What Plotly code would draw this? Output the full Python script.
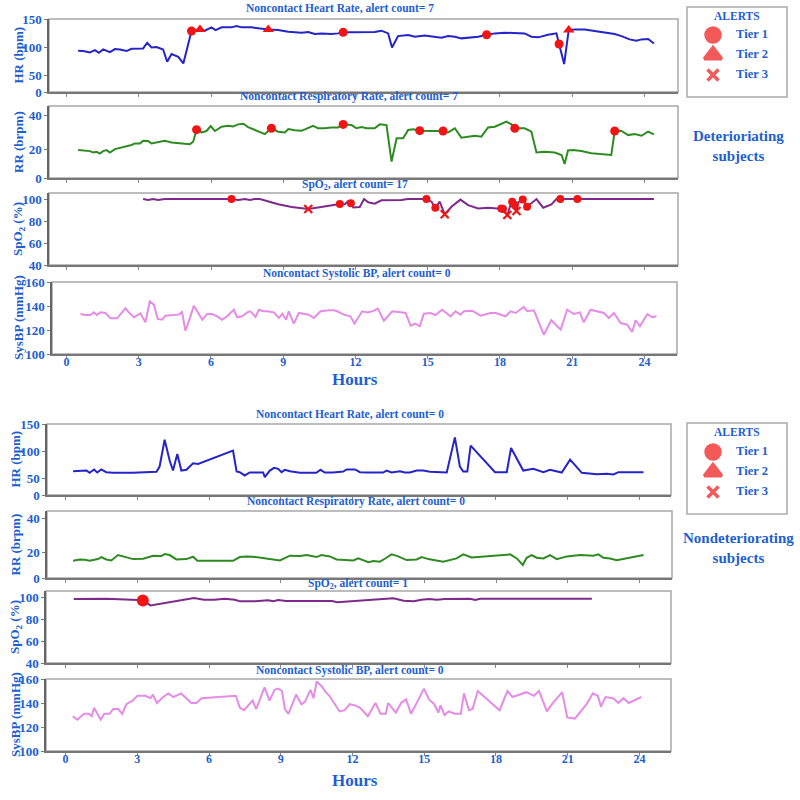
import plotly.graph_objects as go

# ---------------- DATA (hours, values) ----------------
HOUR_TICKS = [0, 3, 6, 9, 12, 15, 18, 21, 24]
TIERS = ["Tier 1", "Tier 2", "Tier 3"]

# Deteriorating subject
det_hr_t = [0.48,0.69,0.97,1.18,1.34,1.52,1.80,2.01,2.22,2.49,2.70,2.98,3.18,3.35,3.53,3.74,4.01,4.18,4.36,4.64,
            4.85,5.19,5.54,5.74,6.02,6.19,6.44,6.85,7.06,7.27,7.68,8.38,8.79,9.21,9.48,9.76,10.04,10.31,10.59,11.0,
            11.28,11.49,11.84,12.25,12.53,12.80,13.08,13.36,13.52,13.77,14.19,14.47,14.88,15.30,15.57,15.85,16.13,16.40,16.68,17.10,
            17.45,17.79,18.20,18.62,19.03,19.31,19.59,20.00,20.35,20.46,20.67,20.86,21.11,21.52,21.94,22.35,22.77,23.05,23.39,23.67,
            23.88,24.16,24.40]
det_hr_v = [93.5,92.9,90.5,94.6,89.9,95.8,91.1,96.4,95.8,92.9,97,97,97.6,107.7,99.4,100,95.8,73.8,87.5,82.7,
            70.8,128.6,131.5,129.2,135.1,130.3,135.1,135.1,137.5,135.1,135.1,131.5,130.3,127.4,126.2,125.6,126.8,123.2,124.4,123.2,
            124.4,126.2,126.2,126.8,126.2,126.8,129.2,124.4,99.4,119.6,121.4,118.4,120.8,118.4,116.7,119.6,118.4,115.5,116.7,118.4,
            122,124.4,125.6,125,124.4,118.4,117.3,122,124.4,105.4,69.7,130.3,131.5,131.5,128.6,125.6,123.2,119.6,113.7,111.3,
            113.7,114.3,106.5]
det_hr_tier1_t = [5.19, 11.49, 17.45, 20.46]
det_hr_tier1_v = [128.6, 126.2, 122, 105.4]
det_hr_tier2_t = [5.54, 8.38, 20.86]
det_hr_tier2_v = [131.5, 131.5, 130.3]

det_rr_t = [0.48,0.76,0.97,1.11,1.25,1.38,1.52,1.66,1.80,2.01,2.28,2.49,2.70,2.84,3.05,3.18,3.39,3.53,3.80,4.08,
            4.36,4.64,4.91,5.12,5.26,5.40,5.61,5.81,5.99,6.16,6.44,6.71,6.92,7.13,7.34,7.54,7.82,8.10,8.24,8.51,
            8.79,9.07,9.21,9.48,9.76,9.90,10.24,10.45,10.73,11.0,11.28,11.49,11.84,12.04,12.25,12.46,12.80,13.01,13.29,13.50,
            13.71,13.98,14.19,14.40,14.67,15.16,15.64,15.85,16.13,16.40,16.68,16.96,17.23,17.51,17.79,18.06,18.27,18.48,18.62,19.03,
            19.31,19.52,19.86,20.28,20.56,20.69,20.83,21.04,21.39,21.80,22.22,22.63,22.77,23.05,23.33,23.60,23.88,24.16,24.40]
det_rr_v = [19.4,19.2,18.8,18.0,18.4,17.3,18.8,19.4,18.0,20.0,20.8,21.8,22.4,23.3,23.3,24.9,24.7,23.3,24.3,24.9,
            23.9,23.3,23.1,22.9,24.3,31.4,29.8,30.6,33.5,30.6,33.1,33.7,33.3,34.5,34.9,32.9,31.4,29.8,28.8,32.2,
            30.2,29.8,31.8,31.0,30.8,31.6,33.7,32.2,32.2,32.7,32.7,34.5,34.1,32.2,32.9,32.2,32.2,34.5,34.1,12.6,
            26.3,26.3,31.2,31.6,30.8,30.6,30.6,29.8,32.2,26.7,27.3,27.8,27.3,32.7,33.1,34.9,36.1,34.5,32.2,32.2,
            30.2,18.0,18.4,18.0,16.5,11.2,19.2,19.4,18.8,17.5,16.9,16.5,30.6,30.6,28.2,28.8,27.8,30.2,28.6]
det_rr_tier1_t = [5.40, 8.51, 11.49, 14.67, 15.64, 18.62, 22.77]
det_rr_tier1_v = [31.4, 32.2, 34.5, 30.8, 30.6, 32.2, 30.6]

det_spo2_t = [3.18,3.39,3.60,3.80,4.08,5.05,6.16,6.85,7.13,7.41,7.61,7.82,8.03,8.38,8.79,9.35,10.04,10.45,11.0,11.35,
              11.56,11.70,11.81,11.91,12.18,12.36,12.53,12.80,13.08,13.91,14.19,14.95,15.16,15.32,15.50,15.71,15.99,16.36,16.68,17.10,
              17.51,18.06,18.13,18.31,18.51,18.62,18.69,18.76,18.95,19.13,19.31,19.52,19.80,20.14,20.35,20.51,21.22,21.52,22.77,24.40]
det_spo2_v = [100,99.2,100,99.2,100,100,100,100,99.2,100,99.2,100,100,97.6,95.2,92.7,90.9,92.4,94.2,95.5,
              95.2,98.2,96.1,92.4,92.7,100,97,95.8,98.8,99.1,100,100,97.6,92.1,97.6,86.1,93.0,99.5,94.5,91.5,
              92.1,91.5,90.9,85.5,99.1,94.5,89.1,97,99.5,93.0,96.1,100,92.1,95.2,100,100,100,100,100,100]
det_spo2_tier1_t = [6.85,11.35,11.81,14.95,15.32,18.06,18.13,18.51,18.62,18.95,19.13,20.51,21.22]
det_spo2_tier1_v = [100,95.5,96.1,100,92.1,91.5,90.9,97.5,94.5,99.5,93.0,100,100]
det_spo2_tier3_t = [10.04, 15.71, 18.31, 18.69]
det_spo2_tier3_v = [90.9, 86.1, 85.5, 89.1]

det_bp_t = [0.58,0.79,1.0,1.13,1.27,1.41,1.62,1.83,2.10,2.17,2.45,2.59,2.80,3.07,3.28,3.46,3.63,3.79,3.97,4.11,
            4.39,4.66,4.80,4.94,5.08,5.29,5.43,5.64,5.84,6.05,6.26,6.47,6.67,6.95,7.09,7.30,7.50,7.64,7.85,7.99,
            8.19,8.33,8.61,8.82,8.96,9.12,9.23,9.44,9.65,9.85,10.06,10.27,10.55,10.89,11.10,11.24,11.52,11.79,11.96,12.28,
            12.49,12.70,12.93,13.18,13.53,13.87,14.08,14.29,14.49,14.67,14.84,15.12,15.32,15.60,15.95,16.15,16.36,16.50,16.85,17.19,
            17.61,17.82,18.23,18.44,18.65,18.99,19.13,19.41,19.61,19.82,20.13,20.52,20.79,21.07,21.32,21.48,21.76,22.04,22.31,22.52,
            22.73,23.01,23.28,23.49,23.63,23.81,24.12,24.32,24.50]
det_bp_v = [133.3,132.5,132.5,134.7,132.5,134.7,134.2,129.7,129.7,131.4,138.1,134.7,130.6,133.9,126.4,143.9,141.1,129.2,128.6,131.9,
            132.2,132.8,135.0,119.4,127.2,140.3,135.6,128.6,133.3,133.3,131.4,128.6,131.4,136.9,130.6,131.4,134.7,135.6,130.8,136.9,
            135.6,135.6,134.7,130.0,133.6,128.6,135.6,125.3,134.2,133.3,132.8,130.0,135.6,136.4,136.4,135.6,132.8,131.4,125.3,135.6,
            134.7,135.6,137.8,127.8,135.6,134.7,134.2,123.6,125.3,123.1,133.6,134.2,132.5,136.9,131.4,135.6,132.8,135.6,136.1,131.9,
            134.2,134.2,131.4,135.6,134.2,139.2,135.6,136.4,127.2,116.1,128.1,120.3,136.9,133.3,134.7,126.4,136.9,135.6,134.2,130.0,
            134.2,125.8,124.4,118.3,128.1,123.1,133.3,130.6,131.4]

# Nondeteriorating subject
non_hr_t = [0.31,0.59,0.87,1.00,1.19,1.32,1.49,1.70,1.98,2.82,3.38,3.80,3.93,4.14,4.35,4.49,4.67,4.84,5.05,5.33,
            5.54,7.0,7.15,7.28,7.49,7.70,8.26,8.33,8.54,8.72,8.89,9.03,9.17,9.38,9.80,10.49,10.66,10.84,11.19,11.61,
            11.75,12.10,12.31,12.59,13.28,13.42,13.63,13.98,14.19,14.40,14.68,14.96,15.24,15.94,16.28,16.49,16.63,16.80,16.94,17.96,
            18.45,18.63,19.14,19.56,19.98,20.26,20.75,21.10,21.59,21.86,22.21,22.63,22.91,23.12,23.75,24.17]
non_hr_v = [63.6,64.8,64.8,60.6,66.7,61.2,66.7,61.8,60.6,60.6,62.4,62.4,72.1,121.2,83.0,64.8,95.2,64.8,66.1,78.2,
            77.0,101.2,63.0,61.8,55.8,61.2,61.2,52.7,64.8,69.7,67.9,61.8,66.1,63.6,60.6,60.6,66.1,61.2,61.2,63.0,
            66.7,66.7,61.8,61.2,61.2,64.8,61.2,63.6,61.2,61.2,64.8,64.8,62.4,61.2,125.5,72.1,63.0,63.0,110.3,61.8,
            61.8,106.1,64.8,67.9,61.8,66.1,61.2,84.8,60.6,60.0,58.2,58.8,57.6,61.8,62.4,61.8]

non_rr_t = [0.31,0.59,0.80,1.00,1.35,1.49,1.70,1.91,2.19,2.47,2.82,3.24,3.66,4.00,4.14,4.35,4.63,5.05,5.33,5.51,
            7.0,7.28,7.56,7.84,8.40,8.68,8.96,9.38,9.80,10.08,10.49,10.70,11.05,11.33,11.75,12.03,12.24,12.66,12.87,13.14,
            13.35,13.63,13.91,14.26,14.68,14.89,15.17,15.79,16.35,16.63,16.98,17.61,18.59,18.87,19.12,19.28,19.49,19.70,19.98,20.26,
            20.54,20.96,21.52,22.07,22.28,22.49,22.77,23.05,24.17]
non_rr_v = [15.2,16.0,15.8,15.2,16.2,17.4,16.0,15.4,18.6,17.6,16.2,16.4,18.2,18.0,19.2,18.6,16.0,16.2,17.6,15.2,
            15.2,17.4,17.8,17.6,16.6,16.2,15.4,18.2,18.0,18.6,17.4,18.6,17.8,16.0,15.8,15.4,16.6,14.3,15.0,14.7,
            16.4,19.0,17.8,15.6,16.0,17.4,16.2,14.7,16.6,19.0,17.2,18.0,19.0,16.6,12.7,17.0,18.6,17.0,16.6,18.6,
            16.2,17.8,18.6,18.2,19.0,17.0,16.6,15.6,18.6]

non_spo2_t = [0.34,1.73,3.01,3.23,3.55,5.37,5.79,6.22,6.65,7.08,7.29,7.93,8.47,8.68,8.89,9.22,11.14,11.36,13.71,14.14,
              14.56,14.88,15.20,15.53,15.85,16.92,17.13,17.34,22.01]
non_spo2_v = [98.2,98.5,97.3,96.8,92.4,99.1,97.6,97.6,98.5,97.6,96.1,96.1,97.0,96.1,97.3,96.4,96.4,95.2,98.8,96.7,
              96.1,97.6,98.2,97.6,98.2,98.5,97.3,98.5,98.5]
non_spo2_tier1_t = [3.23]
non_spo2_tier1_v = [96.8]

non_bp_t = [0.30,0.49,0.77,0.98,1.09,1.19,1.47,1.62,1.84,1.99,2.20,2.37,2.54,2.80,3.01,3.33,3.55,3.65,3.82,4.08,
            4.30,4.51,4.83,5.26,5.47,5.69,7.12,7.29,7.46,7.82,7.97,8.32,8.53,8.74,8.89,9.05,9.17,9.32,9.64,9.86,
            10.01,10.24,10.37,10.50,10.71,10.88,11.03,11.25,11.46,11.67,11.89,12.10,12.32,12.64,12.96,13.17,13.39,13.49,13.81,14.03,
            14.24,14.45,14.99,15.20,15.42,15.59,15.68,15.85,16.02,16.27,16.53,16.66,16.87,17.02,17.24,18.15,18.48,18.69,19.27,19.59,
            19.80,20.13,20.34,20.77,20.98,21.30,21.79,22.05,22.26,22.39,22.58,22.90,23.12,23.33,23.55,24.08]
non_bp_v = [129,126,131,131,129,136,126,131,131,135,135,131,139,142,146,146,144,147,140,145,
            148,145,148,140,140,144,146,136,134,142,135,153,142,151,152,150,135,131,147,139,
            141,151,144,158,154,149,146,139,133,134,139,138,136,129,140,131,131,140,132,140,
            143,131,152,143,139,132,138,130,133,131,131,148,134,135,150,134,150,145,149,146,
            150,133,139,149,128,127,139,148,146,137,145,144,140,144,140,145]

TITLES = ["Noncontact Heart Rate, alert count= 7",
          "Noncontact Respiratory Rate, alert count= 7",
          "SpO<sub>2</sub>, alert count= 17",
          "Noncontact Systolic BP, alert count= 0",
          "Noncontact Heart Rate, alert count= 0",
          "Noncontact Respiratory Rate, alert count= 0",
          "SpO<sub>2</sub>, alert count= 1",
          "Noncontact Systolic BP, alert count= 0"]
YTITLES = ["HR (bpm)", "RR (brpm)", "SpO<sub>2</sub> (%)", "SysBP (mmHg)"]

# ---------------- STYLE ----------------
SERIF = "Liberation Serif"
BLUE = "#1E5FD0"
RED = "#F01414"
C_HR, C_RR, C_SPO2, C_BP = "#2424C8", "#2E8B22", "#7D2A8C", "#E48CE6"
W, H = 800, 800

fig = go.Figure()
layout = dict(width=W, height=H, margin=dict(l=0, r=0, t=0, b=0, pad=0),
              paper_bgcolor="white", plot_bgcolor="white", showlegend=False,
              font=dict(family=SERIF, color=BLUE))
shapes, annos = [], []

def px_x(p): return p / W
def px_y(p): return 1 - p / H
def clamp(v): return max(0.0, min(1.0, v))

def note(text, x, y, size, angle=0):
    annos.append(dict(text=text, x=px_x(x), y=px_y(y), xref="paper", yref="paper",
                      showarrow=False, xanchor="center", yanchor="middle", textangle=angle,
                      font=dict(family=SERIF, size=size, color=BLUE)))

# panel geometry (pixels): x0, x1, top, bottom, x-range
panels = [
    (49, 678, 19, 92, [-0.73, 25.4]),
    (49, 678, 106, 178, [-0.73, 25.4]),
    (49, 678, 193, 265, [-0.73, 25.4]),
    (52, 677, 282, 354, [-0.60, 25.35]),
    (47, 671, 424, 495, [-0.78, 25.32]),
    (47, 672, 511, 578, [-0.78, 25.36]),
    (46, 671, 591, 663, [-0.82, 25.32]),
    (46, 671, 679, 751, [-0.82, 25.32]),
]
yspecs = [
    ([20, 150], [20, 50, 100, 150], ["0", "50", "100", "150"]),
    ([3, 45.3], [3, 20, 40], ["0", "20", "40"]),
    ([40, 105.5], [40, 60, 80, 100], None),
    ([100, 160], [100, 120, 140, 160], None),
    ([20, 150], [20, 50, 100, 150], ["0", "50", "100", "150"]),
    ([5, 44.7], [5, 20, 40], ["0", "20", "40"]),
    ([40, 105.5], [40, 60, 80, 100], None),
    ([100, 160], [100, 120, 140, 160], None),
]
title_pos = [(340, 8), (349, 97), (355, 185), (357, 273), (350, 414), (356, 502), (358, 584), (350, 670)]
ytitle_x = [18, 18, 18, 18, 15, 15, 15, 15]

for i, ((x0, x1, top, bot, xr), (yr, tv, tt)) in enumerate(zip(panels, yspecs), start=1):
    sx = "" if i == 1 else str(i)
    layout["xaxis" + sx] = dict(
        domain=[clamp(px_x(x0)), clamp(px_x(x1))], range=xr, anchor="y" + sx, automargin=False,
        tickvals=HOUR_TICKS, showticklabels=(i in (4, 8)), ticks="outside", ticklen=3,
        ticklabelstandoff=-7,
        tickcolor="#888", showgrid=False, zeroline=False, showline=True,
        linecolor="#777", linewidth=1.5,
        tickfont=dict(family=SERIF, size=12, color=BLUE, weight="bold"))
    ya = dict(domain=[clamp(px_y(bot)), clamp(px_y(top))], range=yr, anchor="x" + sx, automargin=False,
              tickvals=tv, ticks="outside", ticklen=3, tickcolor="#777",
              showgrid=False, zeroline=False, showline=True, linecolor="#666", linewidth=1.5,
              tickfont=dict(family=SERIF, size=13, color=BLUE, weight="bold"))
    if tt:
        ya["ticktext"] = tt
    layout["yaxis" + sx] = ya
    shapes.append(dict(type="rect", xref=f"x{sx} domain", yref=f"y{sx} domain",
                       x0=0, x1=1, y0=0, y1=1, line=dict(color="#A8A8A8", width=1.5), layer="below"))
    tx, ty = title_pos[i - 1]
    note("<b>" + TITLES[i - 1] + "</b>", tx, ty, 11.5)
    note("<b>" + YTITLES[(i - 1) % 4] + "</b>", ytitle_x[i - 1], (top + bot) / 2, 13, -90)

def ax(i):
    return ("x", "y") if i == 1 else (f"x{i}", f"y{i}")

def line(i, t, v, color):
    xa, ya = ax(i)
    fig.add_trace(go.Scatter(x=t, y=v, mode="lines", xaxis=xa, yaxis=ya,
                             line=dict(color=color, width=2), hoverinfo="skip"))

def marks(i, t, v, symbol, size):
    xa, ya = ax(i)
    fig.add_trace(go.Scatter(x=t, y=v, mode="markers", xaxis=xa, yaxis=ya,
                             marker=dict(symbol=symbol, size=size, color=RED,
                                         line=dict(color=RED, width=2.2 if "x" in symbol else 0)),
                             hoverinfo="skip"))

line(1, det_hr_t, det_hr_v, C_HR)
marks(1, det_hr_tier1_t, det_hr_tier1_v, "circle", 9)
marks(1, det_hr_tier2_t, det_hr_tier2_v, "triangle-up", 10)
line(2, det_rr_t, det_rr_v, C_RR)
marks(2, det_rr_tier1_t, det_rr_tier1_v, "circle", 9)
line(3, det_spo2_t, det_spo2_v, C_SPO2)
marks(3, det_spo2_tier1_t, det_spo2_tier1_v, "circle", 8)
marks(3, det_spo2_tier3_t, det_spo2_tier3_v, "x-thin", 8)
line(4, det_bp_t, det_bp_v, C_BP)
line(5, non_hr_t, non_hr_v, C_HR)
line(6, non_rr_t, non_rr_v, C_RR)
line(7, non_spo2_t, non_spo2_v, C_SPO2)
marks(7, non_spo2_tier1_t, non_spo2_tier1_v, "circle", 12)
line(8, non_bp_t, non_bp_v, C_BP)

# Hours labels
note("<b>Hours</b>", 355, 379, 17)
note("<b>Hours</b>", 355, 780, 17)

# Legend boxes (ALERTS) on hidden axes; rows 20 px apart (Tier 1 top row)
for k, (btop, bbot, row1, group_text, gy) in enumerate([(7, 97, 35, "Deterioriating<br>subjects", 146),
                                                         (423, 514, 452, "Nondeteriorating<br>subjects", 548)]):
    n = 9 + k
    layout[f"xaxis{n}"] = dict(domain=[px_x(687), px_x(787)], range=[-0.667, 1.897], visible=False,
                               anchor=f"y{n}", automargin=False)
    layout[f"yaxis{n}"] = dict(domain=[clamp(px_y(row1 + 50)), clamp(px_y(row1 - 10))], range=[-0.5, 2.5],
                               visible=False, type="category", categoryorder="array", automargin=False,
                               categoryarray=TIERS[::-1], anchor=f"x{n}")
    fig.add_trace(go.Scatter(x=[0, 0, 0], y=TIERS, mode="markers", xaxis=f"x{n}", yaxis=f"y{n}",
                             marker=dict(symbol=["circle", "triangle-up", "x-thin"], size=[14, 15, 11],
                                         color=RED, line=dict(color=RED, width=3.5)),
                             hoverinfo="skip"))
    fig.add_trace(go.Scatter(x=[1, 1, 1], y=TIERS, mode="text", text=["<b>%s</b>" % t for t in TIERS],
                             xaxis=f"x{n}", yaxis=f"y{n}",
                             textfont=dict(family=SERIF, size=12.5, color=BLUE), hoverinfo="skip"))
    shapes.append(dict(type="rect", xref="paper", yref="paper", x0=px_x(687), x1=px_x(787),
                       y0=px_y(bbot), y1=px_y(btop), line=dict(color="#AAAAAA", width=1.5)))
    note("<b>ALERTS</b>", 737, btop + 9, 11.5)
    note("<b>" + group_text + "</b>", 738, gy, 15)

layout["shapes"] = shapes
layout["annotations"] = annos
fig.update_layout(**layout)
# place the 800x800 figure flush with the page corner (no default body margin), no toolbar
fig.write_html("out.html", config={"displayModeBar": False},
               post_script="document.body.style.margin='0px';")
